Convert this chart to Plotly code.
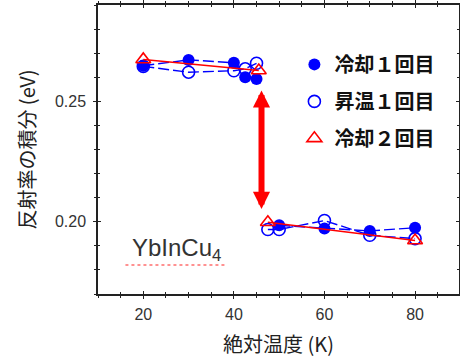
import plotly.graph_objects as go

# Data (temperature in K, integrated reflectivity in eV)
temp_cool1 = [20, 30, 40, 42.5, 45, None, 50, 60, 70, 80]
refl_cool1 = [0.2648, 0.2672, 0.2660, 0.2600, 0.2593, None, 0.1985, 0.1972, 0.1962, 0.1975]

temp_heat1 = [20, 30, 40, 42.5, 45, None, 47.5, 50, 60, 70, 80]
refl_heat1 = [0.2645, 0.2621, 0.2627, 0.2635, 0.2658, None, 0.1968, 0.1968, 0.2005, 0.1944, 0.1930]

temp_cool2 = [20, 45.5, None, 47.5, 80]
refl_cool2 = [0.2674, 0.2628, None, 0.1998, 0.1922]

legend_names = ["冷却１回目", "昇温１回目", "冷却２回目"]
sample_label = "YbInCu<sub>4</sub>"
x_title = "絶対温度 (K)"
y_title = "反射率の積分 (eV)"

BLUE = "#0000ff"
RED = "#ff0000"
JP = "Noto Sans CJK JP"
LAT = "Liberation Sans, Arial, sans-serif"

fig = go.Figure()

# connecting lines (no legend)
fig.add_trace(go.Scatter(x=temp_heat1, y=refl_heat1, mode="lines", showlegend=False,
                         line=dict(color=BLUE, width=1.4, dash="11px,4px"), hoverinfo="skip"))
fig.add_trace(go.Scatter(x=temp_cool1, y=refl_cool1, mode="lines", showlegend=False,
                         line=dict(color=BLUE, width=1.4, dash="11px,4px"), hoverinfo="skip"))

# markers
fig.add_trace(go.Scatter(x=temp_heat1, y=refl_heat1, mode="markers", name=legend_names[1],
                         legendgroup="b", legendrank=2,
                         marker=dict(symbol="circle-open", size=12, color=BLUE, line=dict(width=1.6))))
fig.add_trace(go.Scatter(x=temp_cool1, y=refl_cool1, mode="markers", name=legend_names[0],
                         legendgroup="a", legendrank=1,
                         marker=dict(symbol="circle", size=12, color=BLUE)))
fig.add_trace(go.Scatter(x=temp_cool2, y=refl_cool2, mode="lines", showlegend=False,
                         line=dict(color=RED, width=1.4), hoverinfo="skip"))
fig.add_trace(go.Scatter(x=temp_cool2, y=refl_cool2, mode="markers", name=legend_names[2],
                         legendgroup="c", legendrank=3,
                         marker=dict(symbol="triangle-up-open", size=13, color=RED, line=dict(width=1.6))))

# empty trace to activate overlay axes (for crossing ticks)
fig.add_trace(go.Scatter(x=[], y=[], xaxis="x2", yaxis="y2", showlegend=False))

XR = [10, 89.7]
YR = [0.17, 0.29]
axcol = "#222222"
tickfont = dict(family=LAT, size=16, color="#333333")

fig.update_layout(
    width=460, height=358,
    margin=dict(l=97.5, r=1, t=5, b=63.5, autoexpand=False),
    paper_bgcolor="white", plot_bgcolor="white",
    showlegend=True,
    legend=dict(x=0.544, y=0.862, xanchor="left", yanchor="top",
                bgcolor="rgba(0,0,0,0)", traceorder="grouped", tracegroupgap=8,
                font=dict(family=JP, size=20, color="#111111", weight="bold"),
                itemsizing="trace"),
    xaxis=dict(range=XR, showgrid=False, zeroline=False, showline=True, linecolor=axcol,
               linewidth=1.5, mirror="ticks", ticks="outside", ticklen=3, tickwidth=1.3,
               tickcolor=axcol, dtick=20, tick0=0, tickfont=tickfont, ticklabelstandoff=2,
               automargin=False,
               minor=dict(dtick=5, tick0=0, ticks="outside", ticklen=2, tickwidth=1.2, tickcolor=axcol),
               title=dict(text=x_title, font=dict(family=JP, size=20, color="#222222"), standoff=17)),
    yaxis=dict(range=YR, showgrid=False, zeroline=False, showline=True, linecolor=axcol,
               linewidth=1.5, mirror="ticks", ticks="outside", ticklen=3, tickwidth=1.3,
               tickcolor=axcol, dtick=0.05, tick0=0, tickformat=".2f", tickfont=tickfont,
               ticklabelstandoff=4, automargin=False,
               minor=dict(dtick=0.01, tick0=0, ticks="outside", ticklen=2, tickwidth=1.2, tickcolor=axcol),
               title=dict(text=y_title, font=dict(family=JP, size=20, color="#222222"), standoff=14)),
    xaxis2=dict(range=XR, overlaying="x", anchor="y2", showgrid=False, zeroline=False,
                showline=False, mirror="ticks", ticks="inside", ticklen=3, tickwidth=1.3,
                tickcolor=axcol, dtick=20, tick0=0, showticklabels=False, automargin=False,
                minor=dict(dtick=5, tick0=0, ticks="inside", ticklen=2, tickwidth=1.2, tickcolor=axcol)),
    yaxis2=dict(range=YR, overlaying="y", anchor="x2", showgrid=False, zeroline=False,
                showline=False, mirror="ticks", ticks="inside", ticklen=3, tickwidth=1.3,
                tickcolor=axcol, dtick=0.05, tick0=0, showticklabels=False, automargin=False,
                minor=dict(dtick=0.01, tick0=0, ticks="inside", ticklen=2, tickwidth=1.2, tickcolor=axcol)),
)

# double-headed red arrow marking the valence transition
fig.add_annotation(x=46.1, y=0.2545, ax=46.1, ay=0.2047, xref="x", yref="y", axref="x", ayref="y",
                   text="", showarrow=True, arrowside="end+start", arrowhead=2, startarrowhead=2,
                   arrowsize=0.57, startarrowsize=0.57, arrowwidth=6, arrowcolor=RED, standoff=0,
                   startstandoff=0)

# sample label
fig.add_annotation(x=0.218, y=0.155, xref="paper", yref="paper", text=sample_label, showarrow=False,
                   xanchor="center", yanchor="middle",
                   font=dict(family=LAT, size=24, color="#333333"))
# spell-check style red underline
fig.add_shape(type="line", xref="paper", yref="paper", x0=0.076, x1=0.353, y0=0.10, y1=0.10,
              line=dict(color="rgba(255,60,60,0.75)", width=1.5, dash="dot"))

fig.write_html("out.html", config={"displayModeBar": False},
               post_script="document.body.style.margin='0px';")
